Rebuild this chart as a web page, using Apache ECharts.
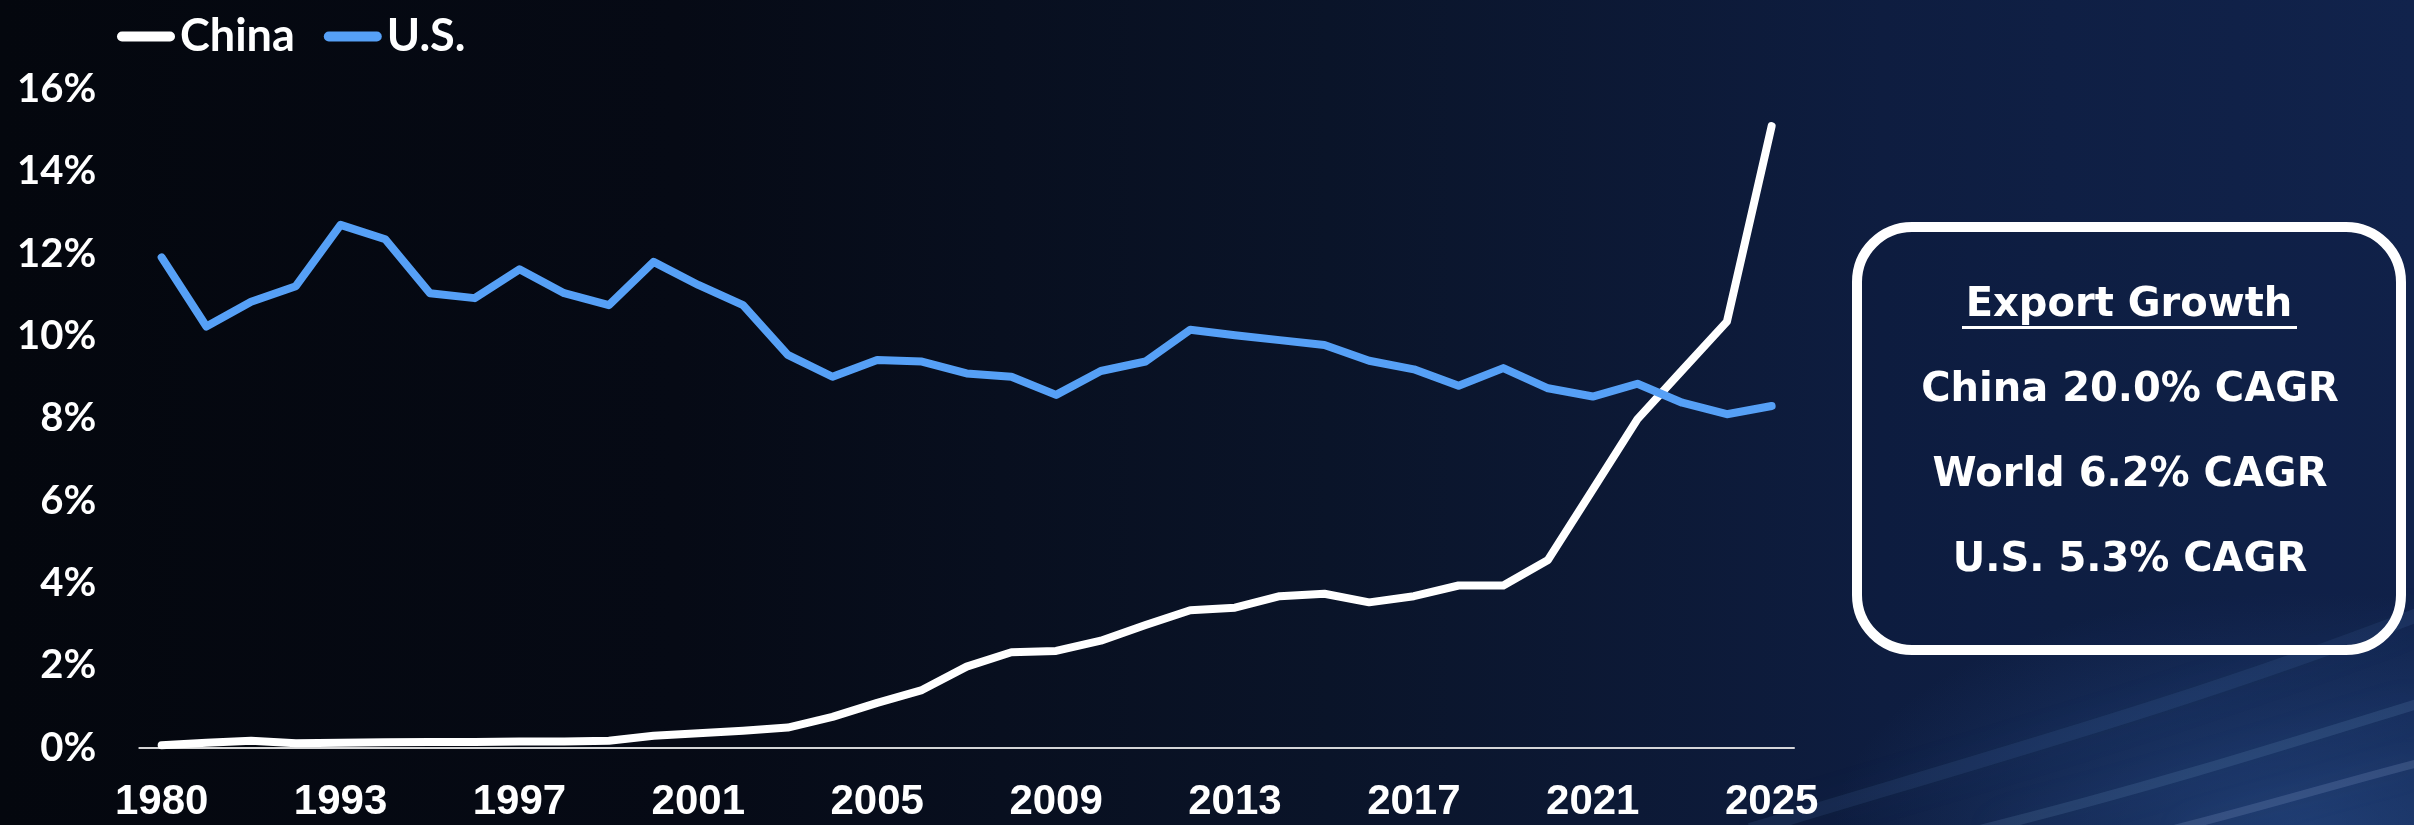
<!DOCTYPE html>
<html>
<head>
<meta charset="utf-8">
<script src="https://cdn.jsdelivr.net/npm/echarts@6/dist/echarts.min.js"></script>
<style>
html,body{margin:0;padding:0;width:2414px;height:825px;overflow:hidden;}
body{
  background:
    radial-gradient(ellipse 650px 330px at 2300px 830px, rgba(50,95,165,0.45), rgba(0,0,0,0) 72%),
    linear-gradient(90deg, #04070e 0%, #060a15 28%, #0a1429 55%, #0e1d40 78%, #11234c 100%);
}
#chart{width:2414px;height:825px;}
</style>
</head>
<body>
<div id="chart"></div>
<script>
// ---- data ----
const years = ['1980','1990','1991','1992','1993','1994','1995','1996','1997','1998','1999',
  '2000','2001','2002','2003','2004','2005','2006','2007','2008','2009','2010',
  '2011','2012','2013','2014','2015','2016','2017','2018','2019','2020','2021',
  '2022','2023','2024','2025'];
const chinaShare = [0.06,0.12,0.17,0.11,0.12,0.13,0.14,0.14,0.15,0.15,0.17,
  0.29,0.35,0.41,0.49,0.75,1.09,1.40,1.97,2.32,2.35,2.60,
  2.98,3.34,3.40,3.68,3.74,3.53,3.68,3.94,3.94,4.56,6.27,
  7.98,9.17,10.35,15.10];
const usShare = [11.91,10.23,10.83,11.21,12.70,12.35,11.04,10.92,11.62,11.04,10.75,
  11.80,11.24,10.75,9.54,9.01,9.42,9.38,9.09,9.01,8.57,9.15,
  9.38,10.15,10.02,9.90,9.78,9.40,9.19,8.79,9.22,8.73,8.53,
  8.84,8.38,8.10,8.30];
const seriesNames = ['China','U.S.'];
const boxTitle = 'Export Growth';
const boxLines = ['China 20.0% CAGR','World 6.2% CAGR','U.S. 5.3% CAGR'];

const chart = echarts.init(document.getElementById('chart'), null, {renderer:'canvas'});
const capsule = 'path://M5,0 L53,0 A5,5 0 0 1 53,10 L5,10 A5,5 0 0 1 5,0 Z';
const boxFont = '"DejaVu Sans", sans-serif';

const option = {
  animation: false,
  backgroundColor: 'transparent',
  grid: {left: 139.3, right: 620, top: 89, bottom: 77.3, containLabel: false},
  legend: {
    left: 112, top: 9,
    itemWidth: 58, itemHeight: 10, itemGap: 29,
    icon: capsule,
    textStyle: {color:'#ffffff', fontFamily:'Lato', fontWeight:'bold', fontSize:45},
    data: seriesNames
  },
  xAxis: {
    type: 'category',
    data: years,
    boundaryGap: true,
    axisLine: {show:true, lineStyle:{color:'rgba(235,235,235,0.9)', width:2}},
    axisTick: {show:false},
    splitLine: {show:false},
    axisLabel: {interval: 3, color:'#ffffff', fontFamily:'"Liberation Sans", Arial, sans-serif',
      fontWeight:'bold', fontSize:42, margin:34}
  },
  yAxis: {
    type: 'value', min: 0, max: 16, interval: 2,
    axisLine: {show:false}, axisTick: {show:false}, splitLine: {show:false},
    axisLabel: {formatter: '{value}%', color:'#ffffff', fontFamily:'Lato', fontWeight:'bold',
      fontSize:40, margin:43}
  },
  series: [
    {name: seriesNames[0], type:'line', data: chinaShare, symbol:'none',
      itemStyle:{color:'#ffffff'},
      lineStyle:{color:'#ffffff', width:8, cap:'round', join:'round'}, z:2},
    {name: seriesNames[1], type:'line', data: usShare, symbol:'none',
      itemStyle:{color:'#56a0f6'},
      lineStyle:{color:'#56a0f6', width:8, cap:'round', join:'round'}, z:3}
  ],
  graphic: [
    // soft light streaks bottom-right
    {type:'bezierCurve', silent:true, z:-10,
      shape:{x1:1750,y1:830,cpx1:1980,cpy1:760,cpx2:2200,cpy2:700,x2:2430,y2:610},
      style:{stroke:'rgba(110,160,225,0.10)', lineWidth:14, fill:null, shadowBlur:40, shadowColor:'rgba(110,160,225,0.45)'}},
    {type:'bezierCurve', silent:true, z:-10,
      shape:{x1:1980,y1:830,cpx1:2160,cpy1:785,cpx2:2300,cpy2:740,x2:2430,y2:700},
      style:{stroke:'rgba(150,190,240,0.13)', lineWidth:10, fill:null, shadowBlur:40, shadowColor:'rgba(150,190,240,0.45)'}},
    {type:'bezierCurve', silent:true, z:-10,
      shape:{x1:2170,y1:830,cpx1:2270,cpy1:805,cpx2:2350,cpy2:780,x2:2430,y2:760},
      style:{stroke:'rgba(180,205,240,0.16)', lineWidth:8, fill:null, shadowBlur:35, shadowColor:'rgba(180,205,240,0.45)'}},
    // box
    {type:'rect', silent:true,
      shape:{x:1857, y:227, width:544, height:423, r:55},
      style:{fill:'rgba(12,26,58,0.15)', stroke:'#ffffff', lineWidth:10}},
    {type:'text', silent:true, x:2129, y:306,
      style:{text: boxTitle, fill:'#ffffff', font:'bold 40px ' + boxFont, align:'center', verticalAlign:'middle'}},
    {type:'line', silent:true,
      shape:{x1:1962, y1:327.5, x2:2297, y2:327.5},
      style:{stroke:'#ffffff', lineWidth:3}},
    {type:'text', silent:true, x:2130, y:391,
      style:{text: boxLines[0], fill:'#ffffff', font:'bold 40px ' + boxFont, align:'center', verticalAlign:'middle'}},
    {type:'text', silent:true, x:2130, y:476,
      style:{text: boxLines[1], fill:'#ffffff', font:'bold 40px ' + boxFont, align:'center', verticalAlign:'middle'}},
    {type:'text', silent:true, x:2130, y:561,
      style:{text: boxLines[2], fill:'#ffffff', font:'bold 40px ' + boxFont, align:'center', verticalAlign:'middle'}}
  ]
};
chart.setOption(option);
</script>
</body>
</html>
